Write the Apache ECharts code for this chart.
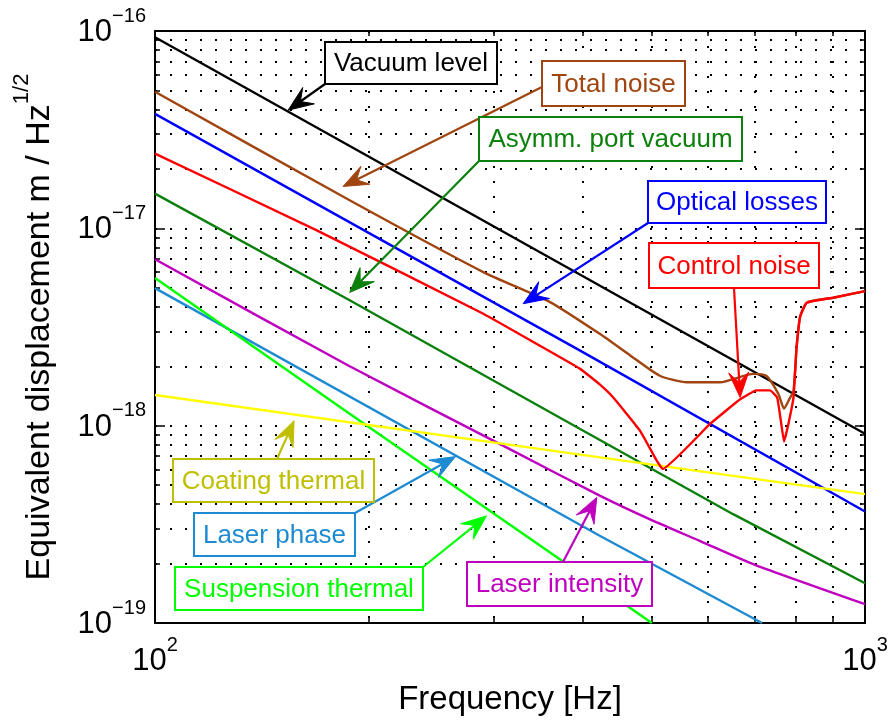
<!DOCTYPE html>
<html>
<head>
<meta charset="utf-8">
<script src="https://cdn.jsdelivr.net/npm/echarts@6/dist/echarts.min.js"></script>
<style>
  html, body { margin: 0; padding: 0; background: #ffffff; }
  #chart { width: 891px; height: 724px; }
</style>
</head>
<body>
<div id="chart"></div>
<script>
// ---- Axis ticks -------------------------------------------------------------
const freqMajorTicks = [100, 1000];
const freqGridTicks = [100, 200, 300, 400, 500, 600, 700, 800, 900, 1000];
const dispMajorTicks = [1e-19, 1e-18, 1e-17, 1e-16];
const dispGridTicks = [
  1e-19, 2e-19, 3e-19, 4e-19, 5e-19, 6e-19, 7e-19, 8e-19, 9e-19,
  1e-18, 2e-18, 3e-18, 4e-18, 5e-18, 6e-18, 7e-18, 8e-18, 9e-18,
  1e-17, 2e-17, 3e-17, 4e-17, 5e-17, 6e-17, 7e-17, 8e-17, 9e-17,
  1e-16
];

// ---- Noise curves: [frequency Hz, displacement m/sqrt(Hz)] -----------------
const vacuumLevel = [[100, 9.29e-17], [1000, 9.1e-19]];

const totalNoise = [
  [100, 4.92e-17], [188, 1.387e-17], [290, 6.0e-18], [360, 4.23e-18],
  [423, 2.92e-18], [467, 2.27e-18], [514, 1.79e-18], [561, 1.66e-18],
  [625, 1.66e-18], [696, 1.83e-18], [726, 1.79e-18], [755, 1.45e-18],
  [769, 1.22e-18], [783, 1.37e-18], [793, 1.5e-18], [801, 2.5e-18],
  [810, 3.55e-18], [828, 4.2e-18], [902, 4.45e-18], [1000, 4.81e-18]
];

const opticalLosses = [[100, 3.8e-17], [397, 2.4e-18], [1000, 3.67e-19]];

const controlNoise = [
  [100, 2.39e-17], [169, 9.77e-18], [290, 3.69e-18], [340, 2.67e-18],
  [397, 1.94e-18], [423, 1.62e-18], [442, 1.39e-18], [482, 9.44e-19],
  [509, 6.64e-19], [519, 6.03e-19], [605, 1.02e-18], [667, 1.36e-18],
  [703, 1.51e-18], [735, 1.51e-18], [752, 1.39e-18], [760, 1.10e-18],
  [769, 8.3e-19], [780, 1.02e-18], [793, 1.39e-18], [801, 2.49e-18],
  [810, 3.55e-18], [828, 4.2e-18], [902, 4.45e-18], [1000, 4.81e-18]
];

const asymmPortVacuum = [
  [100, 1.5e-17], [188, 4.32e-18], [397, 9.61e-19], [652, 3.56e-19], [1000, 1.59e-19]
];

const laserIntensity = [
  [100, 6.97e-18], [188, 2.0e-18], [316, 7.6e-19], [423, 4.42e-19],
  [498, 3.35e-19], [586, 2.6e-19], [700, 1.97e-19], [1000, 1.245e-19]
];

const laserPhase = [[100, 4.98e-18], [423, 2.77e-19], [716, 1.0e-19]];

const suspensionThermal = [[100, 5.6e-18], [188, 1.15e-18], [501, 1.0e-19]];

const coatingThermal = [[100, 1.43e-18], [397, 7.13e-19], [1000, 4.5e-19]];

// ---- Series styling (drawing order: last is on top) ------------------------
const curves = [
  { name: 'Vacuum level', data: vacuumLevel, color: '#000000', smooth: false },
  { name: 'Total noise', data: totalNoise, color: '#a04410', smooth: 0.2 },
  { name: 'Optical losses', data: opticalLosses, color: '#0000ff', smooth: false },
  { name: 'Asymm. port vacuum', data: asymmPortVacuum, color: '#0c800c', smooth: false },
  { name: 'Laser intensity', data: laserIntensity, color: '#bf00bf', smooth: 0.2 },
  { name: 'Laser phase', data: laserPhase, color: '#1d8bd1', smooth: false },
  { name: 'Suspension thermal', data: suspensionThermal, color: '#00ff00', smooth: false },
  { name: 'Coating thermal', data: coatingThermal, color: '#ffff00', smooth: false },
  { name: 'Control noise', data: controlNoise, color: '#ff0000', smooth: 0.1 }
];

// ---- Callout boxes: box [x, y, w, h] and arrow tail in pixels, tip in data --
const callouts = [
  { text: 'Vacuum level', color: '#000000', box: [325, 42, 172, 42], tail: [325, 84], tip: [154, 3.97e-17] },
  { text: 'Total noise', color: '#a04410', box: [542, 61, 143, 45], tail: [542, 87], tip: [184, 1.63e-17] },
  { text: 'Asymm. port vacuum', color: '#0c800c', box: [479, 117, 263, 44], tail: [479, 161], tip: [188, 4.73e-18] },
  { text: 'Optical losses', color: '#0000ff', box: [648, 181, 178, 42], tail: [648, 223], tip: [330, 4.15e-18] },
  { text: 'Control noise', color: '#ff0000', box: [649, 243, 170, 45], tail: [734, 288], tip: [667, 1.39e-18] },
  { text: 'Coating thermal', color: '#bfbf00', box: [173, 459, 201, 43], tail: [277, 459], tip: [157, 1.06e-18] },
  { text: 'Laser phase', color: '#1d8bd1', box: [194, 513, 161, 43], tail: [355, 513], tip: [265, 6.97e-19] },
  { text: 'Suspension thermal', color: '#00ff00', box: [175, 567, 248, 43], tail: [423, 567], tip: [293, 3.49e-19] },
  { text: 'Laser intensity', color: '#bf00bf', box: [467, 562, 185, 44], tail: [563, 562], tip: [419, 4.33e-19] }
];

const FONT = '"Liberation Sans", Arial, Helvetica, sans-serif';

// "10" with a raised exponent
function powerLabel(v) {
  const e = Math.round(Math.log10(v));
  const s = e < 0 ? '\u2212' + (-e) : String(e);
  return '{b|10}{e|' + s + '}';
}
const powerRich = {
  b: { fontSize: 31, fontFamily: FONT, color: '#000', lineHeight: 42, verticalAlign: 'bottom' },
  e: { fontSize: 20, fontFamily: FONT, color: '#000', verticalAlign: 'top' }
};

const dotted = { color: '#000000', width: 2, type: [2, 13] };

function freqAxis(position, major) {
  return {
    type: 'log', logBase: 10, min: 100, max: 1000, position: position,
    axisLine: { show: major, onZero: false, lineStyle: { color: '#000', width: 2 } },
    axisTick: {
      show: true, inside: true, length: major ? 10 : 5,
      customValues: major ? freqMajorTicks : freqGridTicks,
      lineStyle: { color: '#000', width: 1.5 }
    },
    axisLabel: (major && position === 'bottom') ? {
      show: true, customValues: freqMajorTicks, formatter: powerLabel, rich: powerRich, margin: 12
    } : { show: false },
    splitLine: (!major && position === 'bottom') ? { show: true, lineStyle: dotted } : { show: false },
    minorTick: { show: false }, minorSplitLine: { show: false }
  };
}

function dispAxis(position, major) {
  return {
    type: 'log', logBase: 10, min: 1e-19, max: 1e-16, position: position,
    axisLine: { show: major, onZero: false, lineStyle: { color: '#000', width: 2 } },
    axisTick: {
      show: true, inside: true, length: major ? 10 : 5,
      customValues: major ? dispMajorTicks : dispGridTicks,
      lineStyle: { color: '#000', width: 1.5 }
    },
    axisLabel: (major && position === 'left') ? {
      show: true, customValues: dispMajorTicks, formatter: powerLabel, rich: powerRich,
      margin: 9, align: 'right', padding: [0, 0, 8, 0]
    } : { show: false },
    splitLine: (!major && position === 'left') ? { show: true, lineStyle: dotted } : { show: false },
    minorTick: { show: false }, minorSplitLine: { show: false }
  };
}

const xAxes = [freqAxis('bottom', true), freqAxis('bottom', false), freqAxis('top', true), freqAxis('top', false)];
xAxes[0].name = 'Frequency [Hz]';
xAxes[0].nameLocation = 'middle';
xAxes[0].nameGap = 60;
xAxes[0].nameTextStyle = { fontSize: 33, fontFamily: FONT, color: '#000' };

const yAxes = [dispAxis('left', true), dispAxis('left', false), dispAxis('right', true), dispAxis('right', false)];
yAxes[0].name = '{t|Equivalent displacement m / Hz}{s|1/2}';
yAxes[0].nameLocation = 'middle';
yAxes[0].nameRotate = 90;
yAxes[0].nameGap = 98;
yAxes[0].nameTextStyle = {
  rich: {
    t: { fontSize: 34, fontFamily: FONT, color: '#000', lineHeight: 46, verticalAlign: 'bottom' },
    s: { fontSize: 22, fontFamily: FONT, color: '#000', verticalAlign: 'top' }
  }
};

const chart = echarts.init(document.getElementById('chart'), null, { renderer: 'canvas' });

chart.setOption({
  animation: false,
  backgroundColor: '#ffffff',
  grid: { left: 155, top: 31, right: 26, bottom: 101, containLabel: false, outerBoundsMode: 'none', show: false },
  xAxis: xAxes,
  yAxis: yAxes,
  series: curves.map(c => ({
    type: 'line', name: c.name, data: c.data,
    xAxisIndex: 0, yAxisIndex: 0,
    symbol: 'none', showSymbol: false, smooth: c.smooth, clip: true,
    lineStyle: { color: c.color, width: 2.4 }, itemStyle: { color: c.color },
    emphasis: { disabled: true }, z: 3
  }))
});

// ---- Callouts: arrows pointing at the curves plus labelled boxes ----------
function arrowElements(c) {
  const tip = chart.convertToPixel({ xAxisIndex: 0, yAxisIndex: 0 }, c.tip);
  const [tx, ty] = c.tail;
  const dx = tip[0] - tx, dy = tip[1] - ty;
  const len = Math.hypot(dx, dy);
  const ux = dx / len, uy = dy / len;
  const nx = -uy, ny = ux;
  const L = 25, W = 10, N = 15;
  const back = [tip[0] - ux * L, tip[1] - uy * L];
  const notch = [tip[0] - ux * N, tip[1] - uy * N];
  return [
    { type: 'line', z: 20, silent: true,
      shape: { x1: tx, y1: ty, x2: notch[0], y2: notch[1] },
      style: { stroke: c.color, lineWidth: 2.2 } },
    { type: 'polygon', z: 20, silent: true,
      shape: { points: [tip, [back[0] + nx * W, back[1] + ny * W], notch, [back[0] - nx * W, back[1] - ny * W]] },
      style: { fill: c.color, stroke: c.color, lineWidth: 1 } }
  ];
}

function boxElements(c) {
  const [x, y, w, h] = c.box;
  return [
    { type: 'rect', z: 21, silent: true,
      shape: { x: x, y: y, width: w, height: h },
      style: { fill: '#ffffff', stroke: c.color, lineWidth: 2 } },
    { type: 'text', z: 22, silent: true,
      style: { text: c.text, x: x + w / 2, y: y + h / 2 + 1, fill: c.color,
               font: '26px ' + FONT, textAlign: 'center', verticalAlign: 'middle', textVerticalAlign: 'middle' } }
  ];
}

const graphics = [];
callouts.forEach(c => { graphics.push(...arrowElements(c)); });
callouts.forEach(c => { graphics.push(...boxElements(c)); });
chart.setOption({ graphic: graphics });
</script>
</body>
</html>
